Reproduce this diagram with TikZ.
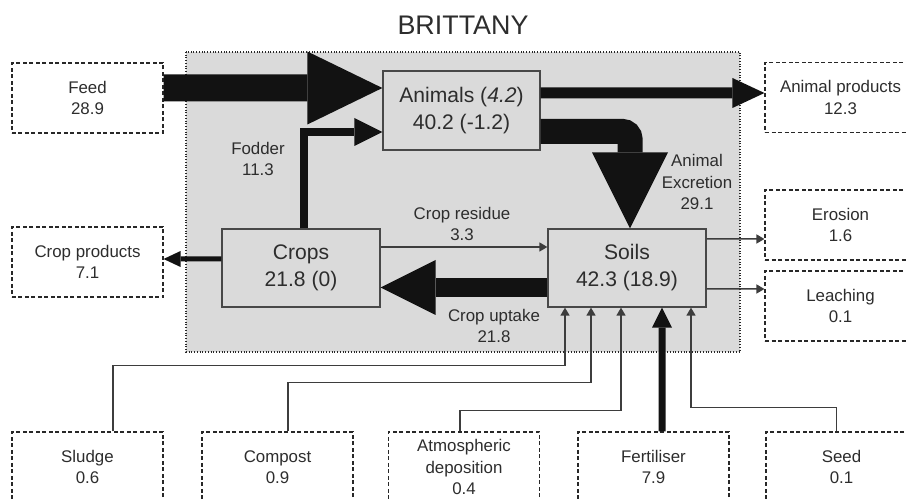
\documentclass[tikz,border=0pt]{standalone}
\usepackage{fontspec}
\setmainfont{Liberation Sans}
\usetikzlibrary{arrows.meta}
\definecolor{figline}{RGB}{40,40,40}
\definecolor{figfill}{RGB}{218,218,218}
\definecolor{figtext}{RGB}{45,45,45}
\definecolor{figfat}{RGB}{18,18,18}
\tikzset{
  pool/.style ={draw=figline!85, fill=figfill, line width=0.25mm, minimum width=31.6mm, minimum height=15.6mm,
                inner sep=0pt, align=center, font=\fontsize{12}{15.4}\selectfont, text=figtext},
  ext/.style  ={draw=figline, dash pattern=on 0.8mm off 0.5mm, line width=0.22mm, minimum width=30.2mm,
                minimum height=14mm, inner sep=0pt, align=center, font=\fontsize{9.6}{12}\selectfont, text=figtext},
  labs/.style ={font=\fontsize{9.6}{12}\selectfont, text=figtext, align=center, inner sep=1pt},
  thin/.style ={draw=figline!90, line width=0.3mm, -{Triangle[length=1.6mm,width=1.8mm]}},
  fat/.style n args={3}{draw=figfat, line width=#1, -{Triangle[length=#2,width=#3,line width=0pt]}},
}
\begin{document}
\begin{tikzpicture}[x=0.2mm,y=-0.2mm]
  \useasboundingbox (0,0) rectangle (906,499);
  \clip (0,0) rectangle (906,499);
  \node[font=\fontsize{15.3}{18}\selectfont, text=figtext] (title) at (463,25) {BRITTANY};
  % farm region
  \draw[draw=figline, fill=figfill, line width=0.25mm, dash pattern=on 0.2mm off 0.35mm] (186,52) rectangle (740,352);
  % pools
  \node[pool, minimum width=31.4mm, minimum height=15.8mm] (animals) at (461.5,110.5) {Animals (\textit{4.2})\\40.2 (-1.2)};
  \node[pool] (crops) at (301,268) {Crops\\21.8 (0)};
  \node[pool] (soils) at (627,268) {Soils\\42.3 (18.9)};
  % outside
  \node[ext] (feed)    at (87.5,98)   {Feed\\28.9};
  \node[ext] (cprod)   at (87.5,262)  {Crop products\\7.1};
  \node[ext] (aprod)   at (840.5,97.5) {Animal products\\12.3};
  \node[ext] (erosion) at (840.5,225) {Erosion\\1.6};
  \node[ext] (leach)   at (840.5,306) {Leaching\\0.1};
  \node[ext] (sludge)  at (87.5,467)  {Sludge\\0.6};
  \node[ext] (compost) at (277.5,467) {Compost\\0.9};
  \node[ext] (atmos)   at (464,467)   {Atmospheric\\deposition\\0.4};
  \node[ext] (fert)    at (653.5,467) {Fertiliser\\7.9};
  \node[ext] (seed)    at (841.5,467) {Seed\\0.1};
  % flows
  \draw[fat={5.4mm}{15mm}{14.6mm}] ([yshift=2mm]feed.east) -- ([yshift=4.5mm]animals.west);
  \draw[fat={1.7mm}{5.6mm}{5.6mm}] ([xshift=0.6mm]crops.north) |- ([yshift=-4.3mm]animals.west);
  \draw[fat={2.2mm}{6.4mm}{6mm}] ([yshift=3.5mm]animals.east) -- ([yshift=0.9mm]aprod.west);
  \draw[fat={5mm}{15.2mm}{15.2mm}, rounded corners=1.5mm] ([yshift=-4.2mm]animals.east) -| ([xshift=0.6mm]soils.north);
  \draw[fat={1mm}{3.4mm}{3.2mm}] ([yshift=1.8mm]crops.west) -- ([yshift=0.6mm]cprod.east);
  \draw[thin] ([yshift=4.2mm]crops.east) -- ([yshift=4.2mm]soils.west);
  \draw[fat={3.8mm}{11mm}{11mm}] ([yshift=-3.9mm]soils.west) -- ([yshift=-3.9mm]crops.east);
  \draw[thin] ([yshift=5.8mm]soils.east) -- ([yshift=-2.8mm]erosion.west);
  \draw[thin] ([yshift=-4.2mm]soils.east) -- ([yshift=3.4mm]leach.west);
  \draw[thin] ([xshift=5.1mm]sludge.north) -- ++(0,-66) -| ([xshift=-12.4mm]soils.south);
  \draw[thin] ([xshift=2.1mm]compost.north) -- ++(0,-49) -| ([xshift=-7.2mm]soils.south);
  \draw[thin] ([xshift=-0.8mm]atmos.north) -- ++(0,-21) -| ([xshift=-1.2mm]soils.south);
  \draw[fat={1.4mm}{4mm}{4mm}] ([xshift=1.7mm]fert.north) -- ([xshift=7mm]soils.south);
  \draw[thin] ([xshift=-1mm]seed.north) -- ++(0,-24) -| ([xshift=12.8mm]soils.south);
  % flow labels
  \node[labs] (fodderlab)  at (258,159) {Fodder\\11.3};
  \node[labs] (excrlab)    at (697,182) {Animal\\Excretion\\29.1};
  \node[labs] (residuelab) at (462,224) {Crop residue\\3.3};
  \node[labs] (uptakelab)  at (494,326) {Crop uptake\\21.8};
\end{tikzpicture}
\end{document}
